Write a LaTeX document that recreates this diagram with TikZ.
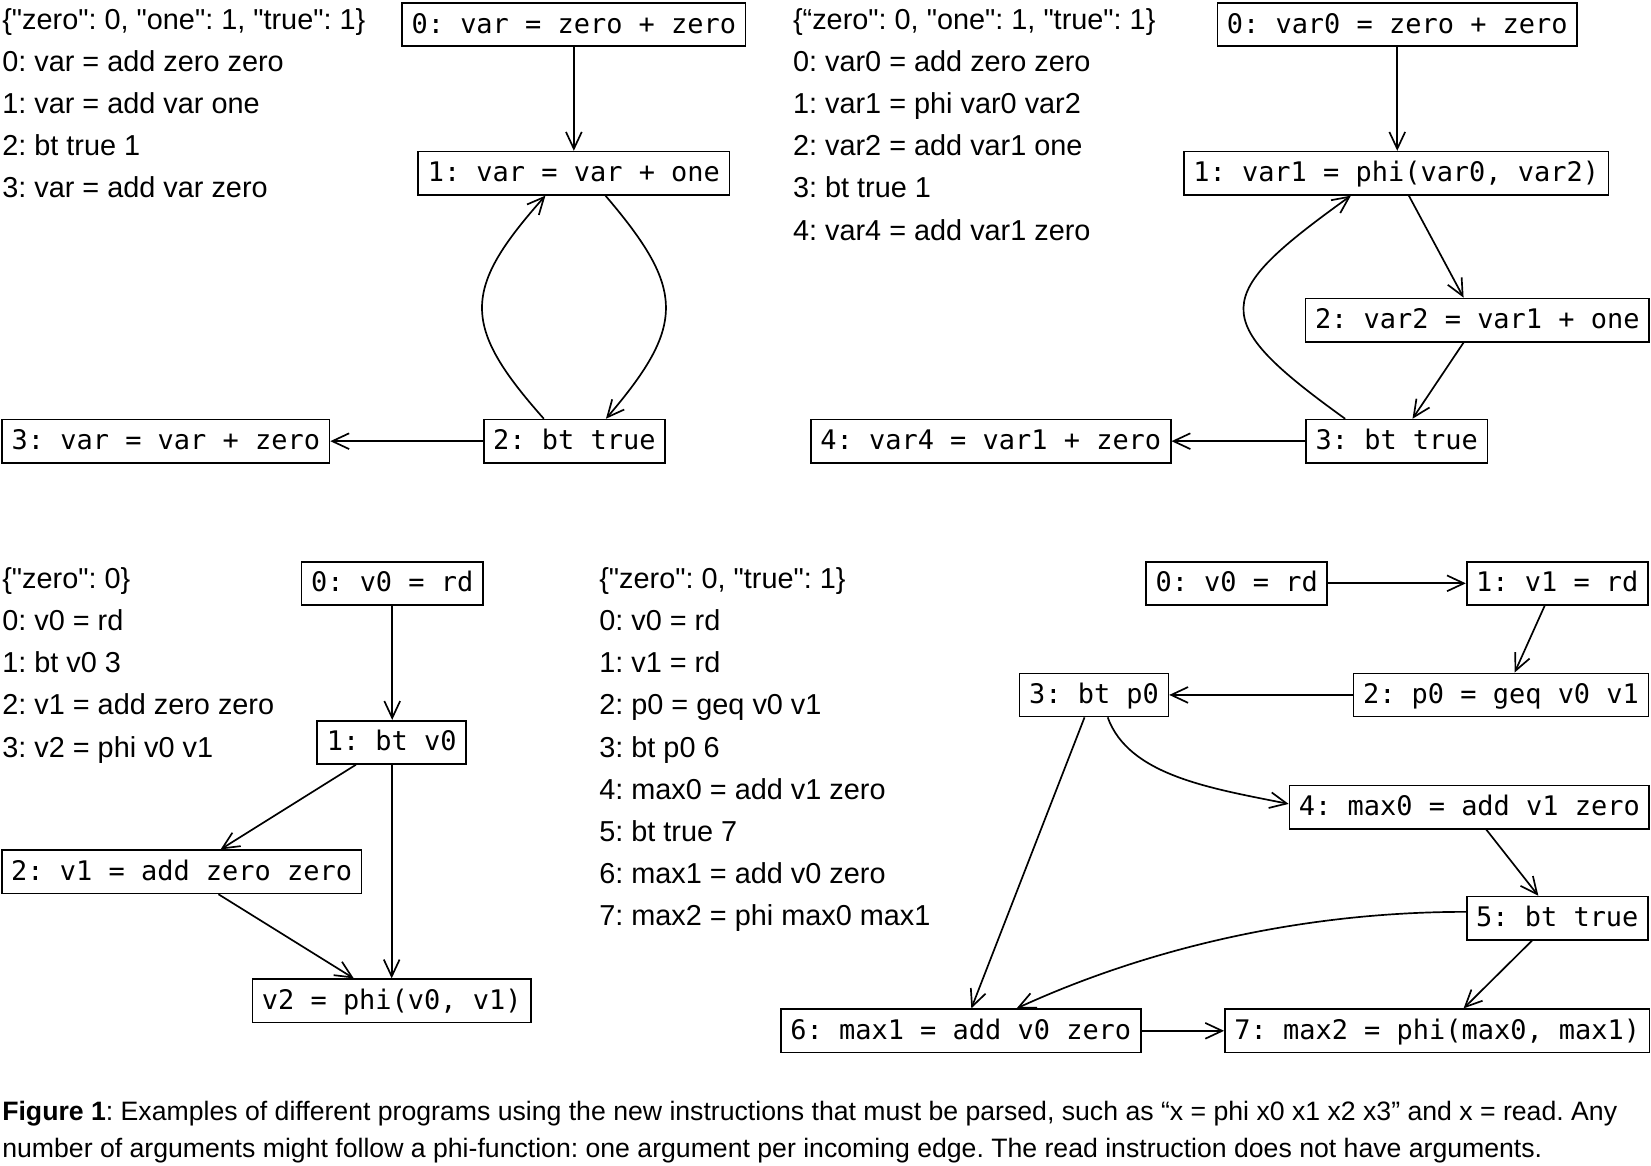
\documentclass[tikz,border=0pt]{standalone}
\usepackage{fontspec}
\setmainfont{Liberation Sans}[Ligatures=TeXOff]
\newfontfamily\mono{DejaVu Sans Mono}[Ligatures=TeXOff]
\usetikzlibrary{arrows.meta,calc}
\frenchspacing
\begin{document}
\frenchspacing
\begin{tikzpicture}[x=1pt,y=-1pt,
  box/.style={draw, line width=1.6pt, font=\mono\fontsize{25.6pt}{30pt}\selectfont\frenchspacing,
    inner xsep=9pt, inner ysep=0pt, minimum height=41pt, text height=19.5pt, text depth=3.5pt},
  txt/.style={anchor=base west, inner sep=0pt, font=\fontsize{27.4pt}{32pt}\selectfont\frenchspacing},
  captxt/.style={anchor=base west, inner sep=0pt, font=\fontsize{25.3pt}{30pt}\selectfont\frenchspacing},
  arr/.style={-{Straight Barb[length=16pt,width=15pt]}, line width=1.6pt}]
\useasboundingbox (0,0) rectangle (1568,1107);

% ---------- panel 1 ----------
\node[txt] (a0t) at (2,28) {\{"zero": 0, "one": 1, "true": 1\}};
\node[txt] (a1t) at (2,68) {0: var = add zero zero};
\node[txt] (a2t) at (2,108) {1: var = add var one};
\node[txt] (a3t) at (2,148) {2: bt true 1};
\node[txt] (a4t) at (2,188) {3: var = add var zero};

\node[box] (A0) at (545,23.5) {0: var = zero + zero};
\node[box] (A1) at (545,164.5) {1: var = var + one};
\node[box] (A2) at (545.5,419) {2: bt true};
\node[box] (A3) at (157.5,419) {3: var = var + zero};

\draw[arr] (A0.south) -- (A0.south |- A1.north);
\draw[arr] ([xshift=-29pt]A2.north) .. controls +(-79,-89) and +(-79,89) .. ([xshift=-27pt]A1.south);
\draw[arr] ([xshift=30pt]A1.south) .. controls +(76,89) and +(76,-89) .. ([xshift=30pt]A2.north);
\draw[arr] (A2.west) -- (A3.east);

% ---------- panel 2 ----------
\node[txt] (b0t) at (753,28) {\{“zero": 0, "one": 1, "true": 1\}};
\node[txt] (b1t) at (753,68) {0: var0 = add zero zero};
\node[txt] (b2t) at (753,108) {1: var1 = phi var0 var2};
\node[txt] (b3t) at (753,148) {2: var2 = add var1 one};
\node[txt] (b4t) at (753,188) {3: bt true 1};
\node[txt] (b5t) at (753,228) {4: var4 = add var1 zero};

\node[box] (B0) at (1327,23.5) {0: var0 = zero + zero};
\node[box] (B1) at (1326,164.5) {1: var1 = phi(var0, var2)};
\node[box] (B2) at (1403,304) {2: var2 = var1 + one};
\node[box] (B3) at (1326.5,419) {3: bt true};
\node[box] (B4) at (941,419) {4: var4 = var1 + zero};

\draw[arr] (B0.south) -- (B0.south |- B1.north);
\draw[arr] ([xshift=12pt]B1.south) -- ([xshift=-13pt]B2.north);
\draw[arr] ([xshift=-13pt]B2.south) -- ([xshift=15pt]B3.north);
\draw[arr] ([xshift=-49pt]B3.north) .. controls +(-132,-95) and +(-132,95) .. ([xshift=-43pt]B1.south);
\draw[arr] (B3.west) -- (B4.east);

% ---------- panel 3 ----------
\node[txt] (c0t) at (2,559) {\{"zero": 0\}};
\node[txt] (c1t) at (2,599) {0: v0 = rd};
\node[txt] (c2t) at (2,639) {1: bt v0 3};
\node[txt] (c3t) at (2,679) {2: v1 = add zero zero};
\node[txt] (c4t) at (2,719) {3: v2 = phi v0 v1};

\node[box] (C0) at (372.5,554) {0: v0 = rd};
\node[box] (C1) at (372,705) {1: bt v0};
\node[box] (C2) at (172.5,828) {2: v1 = add zero zero};
\node[box] (C3) at (372,950.5) {v2 = phi(v0, v1)};

\draw[arr] (C0.south) -- (C0.south |- C1.north);
\draw[arr] ([xshift=-34pt]C1.south) -- ([xshift=37pt]C2.north);
\draw[arr] (C1.south) -- (C1.south |- C3.north);
\draw[arr] ([xshift=35pt]C2.south) -- ([xshift=-36pt]C3.north);

% ---------- panel 4 ----------
\node[txt] (d0t) at (569,559) {\{"zero": 0, "true": 1\}};
\node[txt] (d1t) at (569,599) {0: v0 = rd};
\node[txt] (d2t) at (569,639) {1: v1 = rd};
\node[txt] (d3t) at (569,679) {2: p0 = geq v0 v1};
\node[txt] (d4t) at (569,719) {3: bt p0 6};
\node[txt] (d5t) at (569,759) {4: max0 = add v1 zero};
\node[txt] (d6t) at (569,799) {5: bt true 7};
\node[txt] (d7t) at (569,839) {6: max1 = add v0 zero};
\node[txt] (d8t) at (569,879) {7: max2 = phi max0 max1};

\node[box] (D0) at (1174.5,554) {0: v0 = rd};
\node[box] (D1) at (1479,554) {1: v1 = rd};
\node[box] (D2) at (1425.5,660) {2: p0 = geq v0 v1};
\node[box] (D3) at (1039,660) {3: bt p0};
\node[box] (D4) at (1395.5,766.5) {4: max0 = add v1 zero};
\node[box] (D5) at (1479,872) {5: bt true};
\node[box] (D6) at (912.5,979) {6: max1 = add v0 zero};
\node[box] (D7) at (1365,979) {7: max2 = phi(max0, max1)};

\draw[arr] (D0.east) -- (D1.west);
\draw[arr] ([xshift=-12pt]D1.south) -- ([xshift=13pt]D2.north);
\draw[arr] (D2.west) -- (D3.east);
\draw[arr] ([xshift=13pt]D3.south) .. controls +(20,55) and +(-75,-15) .. ([yshift=3pt]D4.west);
\draw[arr] ([xshift=-9pt]D3.south) -- ([xshift=10pt]D6.north);
\draw[arr] ([xshift=16pt]D4.south) -- ([xshift=-18pt]D5.north);
\draw[arr] ([yshift=6pt]D5.west) .. controls +(-160,0) and +(120,-55) .. ([xshift=53pt]D6.north);
\draw[arr] ([xshift=-24pt]D5.south) -- ([xshift=25pt]D7.north);
\draw[arr] (D6.east) -- (D7.west);

% ---------- caption ----------
\node[captxt] (cap1) at (2,1064) {\textbf{Figure 1}: Examples of different programs using the new instructions that must be parsed, such as “x = phi x0 x1 x2 x3” and x = read. Any};
\node[captxt] (cap2) at (2,1099) {number of arguments might follow a phi-function: one argument per incoming edge. The read instruction does not have arguments.};
\end{tikzpicture}
\end{document}
